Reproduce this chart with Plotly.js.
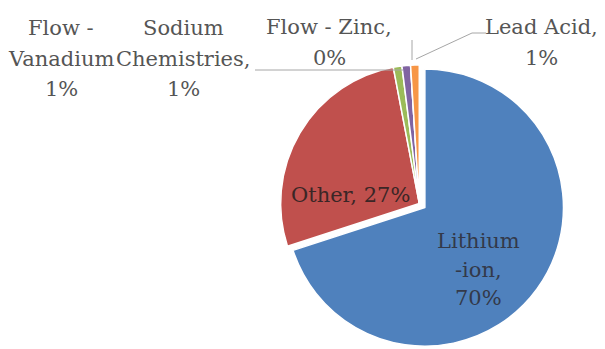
<!DOCTYPE html>
<html>
<head>
<meta charset="utf-8">
<script src="https://cdn.plot.ly/plotly-3.0.1.min.js"></script>
<style>
  html, body { margin: 0; padding: 0; background: #ffffff; }
  #chart { width: 605px; height: 349px; }
</style>
</head>
<body>
<div id="chart"></div>
<script>
// Storage technology shares
const labels = ['Lithium-ion', 'Other', 'Flow - Vanadium', 'Sodium Chemistries', 'Flow - Zinc', 'Lead Acid'];
const values = [70, 27, 1, 1, 0, 1];
const colors = ['#4F81BD', '#C0504D', '#9BBB59', '#8064A2', '#4BACC6', '#F79646'];
// How each category name is wrapped in its data label (lines)
const labelLines = [['Lithium', '-ion,'], ['Other,'], ['Flow -', 'Vanadium'], ['Sodium', 'Chemistries,'], ['Flow - Zinc,'], ['Lead Acid,']];
const pctOnSameLine = [false, true, false, false, false, false];

// Layout constants (pixels): first-line centre and line step of each label
const W = 605, H = 349;
const labelPos = [[478, 241], [350, 195], [61, 28], [183, 28], [329, 27], [541, 27]];
const lineStep = [28.5, 0, 30.5, 30.5, 31, 31];
const labelColor = ['#33394a', '#3a2626', '#555555', '#555555', '#555555', '#555555'];

const total = values.reduce((a, b) => a + b, 0);
const pctText = values.map(v => Math.round(v / total * 100) + '%');

const px = x => x / W;
const py = y => 1 - y / H;

const annotations = [];
labels.forEach((_, i) => {
  const lines = labelLines[i].slice();
  if (pctOnSameLine[i]) lines[lines.length - 1] += ' ' + pctText[i];
  else lines.push(pctText[i]);
  lines.forEach((t, k) => {
    annotations.push({
      xref: 'paper', yref: 'paper',
      x: px(labelPos[i][0]), y: py(labelPos[i][1] + k * lineStep[i]),
      xanchor: 'center', yanchor: 'middle',
      text: t,
      showarrow: false,
      font: { family: 'DejaVu Serif', size: 21, color: labelColor[i] }
    });
  });
});

// Leader lines from the small outside labels to their slices
const lead = '#a6a6a6';
const shapes = [
  { type: 'path', path: `M ${px(255)} ${py(70)} L ${px(403)} ${py(70)}` },
  { type: 'path', path: `M ${px(412)} ${py(40)} L ${px(412)} ${py(60)}` },
  { type: 'path', path: `M ${px(416)} ${py(59)} L ${px(472)} ${py(33)} L ${px(486)} ${py(33)}` }
].map(s => Object.assign(s, { xref: 'paper', yref: 'paper', line: { color: lead, width: 1 } }));

const trace = {
  type: 'pie',
  labels: labels,
  values: values,
  sort: false,
  direction: 'clockwise',
  rotation: 0,
  pull: [0.05, 0, 0, 0, 0, 0],
  marker: { colors: colors, line: { color: '#ffffff', width: 1.5 } },
  textinfo: 'none',
  hoverinfo: 'skip',
  showlegend: false,
  domain: { x: [0.443, 0.943], y: [0, 0.834] }
};

const layout = {
  width: W, height: H,
  margin: { l: 0, r: 0, t: 0, b: 0 },
  paper_bgcolor: '#ffffff',
  plot_bgcolor: '#ffffff',
  showlegend: false,
  annotations: annotations,
  shapes: shapes
};

Plotly.newPlot('chart', [trace], layout, { staticPlot: true, displayModeBar: false });
</script>
</body>
</html>
